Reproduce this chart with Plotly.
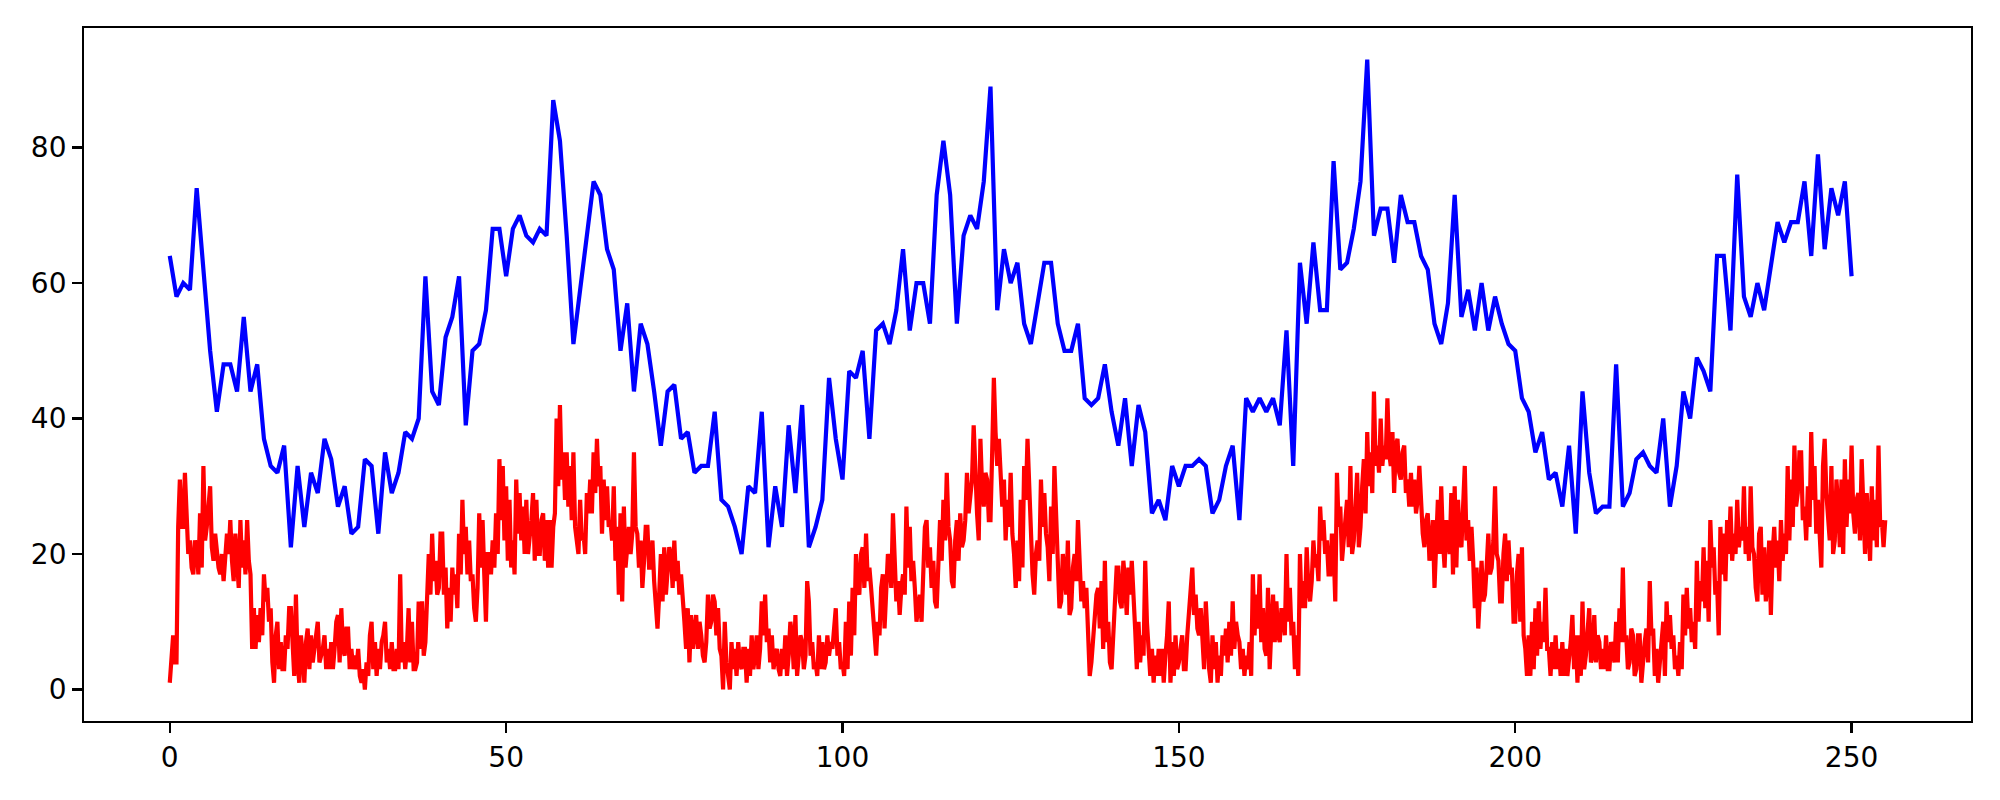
import plotly.graph_objects as go

# Blue series: one value per integer x (0..250)
blue_values = [
    64, 58, 60, 59, 74, 61, 50, 41, 48, 48,
    44, 55, 44, 48, 37, 33, 32, 36, 21, 33,
    24, 32, 29, 37, 34, 27, 30, 23, 24, 34,
    33, 23, 35, 29, 32, 38, 37, 40, 61, 44,
    42, 52, 55, 61, 39, 50, 51, 56, 68, 68,
    61, 68, 70, 67, 66, 68, 67, 87, 81, 67,
    51, 59, 67, 75, 73, 65, 62, 50, 57, 44,
    54, 51, 44, 36, 44, 45, 37, 38, 32, 33,
    33, 41, 28, 27, 24, 20, 30, 29, 41, 21,
    30, 24, 39, 29, 42, 21, 24, 28, 46, 37,
    31, 47, 46, 50, 37, 53, 54, 51, 56, 65,
    53, 60, 60, 54, 73, 81, 73, 54, 67, 70,
    68, 75, 89, 56, 65, 60, 63, 54, 51, 57,
    63, 63, 54, 50, 50, 54, 43, 42, 43, 48,
    41, 36, 43, 33, 42, 38, 26, 28, 25, 33,
    30, 33, 33, 34, 33, 26, 28, 33, 36, 25,
    43, 41, 43, 41, 43, 39, 53, 33, 63, 54,
    66, 56, 56, 78, 62, 63, 68, 75, 93, 67,
    71, 71, 63, 73, 69, 69, 64, 62, 54, 51,
    57, 73, 55, 59, 53, 60, 53, 58, 54, 51,
    50, 43, 41, 35, 38, 31, 32, 27, 36, 23,
    44, 32, 26, 27, 27, 48, 27, 29, 34, 35,
    33, 32, 40, 27, 33, 44, 40, 49, 47, 44,
    64, 64, 53, 76, 58, 55, 60, 56, 63, 69,
    66, 69, 69, 75, 64, 79, 65, 74, 70, 75,
    61,
]
blue_x = list(range(len(blue_values)))

# Red series: read every quarter unit of x (0 .. 255)
red_step = 0.25
red_values = [
    1, 6, 8, 4,  4, 24, 31, 24,  24, 32, 25, 20,  22, 18, 17, 22,  21, 17, 26, 18,
    33, 22, 24, 28,  30, 21, 19, 23,  20, 18, 17, 20,  16, 21, 23, 20,  25, 19, 16, 23,
    19, 15, 25, 18,  22, 17, 25, 19,  17, 6, 12, 6,  11, 7, 12, 8,  17, 13, 15, 10,
    12, 4, 1, 8,  10, 3, 7, 3,  3, 8, 6, 12,  12, 5, 2, 14,  4, 1, 8, 5,
    1, 7, 9, 3,  8, 4, 6, 9,  10, 4, 5, 6,  8, 3, 6, 3,  7, 3, 6, 10,
    11, 4, 12, 6,  5, 9, 9, 3,  6, 3, 5, 3,  6, 2, 1, 3,  0, 4, 2, 8,
    10, 3, 7, 2,  6, 3, 7, 8,  10, 4, 6, 3,  7, 3, 3, 6,  3, 17, 4, 7,
    3, 6, 12, 4,  10, 3, 3, 4,  13, 6, 13, 5,  7, 12, 20, 14,  23, 16, 19, 14,
    15, 23, 23, 14,  18, 9, 15, 10,  18, 14, 17, 12,  23, 17, 28, 20,  24, 17, 22, 16,
    17, 12, 10, 15,  26, 18, 25, 17,  10, 20, 20, 17,  22, 18, 26, 20,  34, 25, 33, 22,
    30, 19, 28, 18,  22, 17, 31, 23,  29, 22, 27, 20,  28, 20, 22, 25,  29, 19, 28, 20,
    20, 25, 26, 19,  25, 18, 25, 18,  24, 26, 40, 30,  42, 31, 35, 28,  35, 27, 33, 25,
    35, 24, 22, 20,  28, 22, 23, 20,  29, 26, 31, 26,  35, 29, 37, 30,  33, 23, 31, 25,
    30, 24, 25, 22,  30, 19, 24, 14,  26, 13, 27, 18,  21, 24, 20, 23,  35, 24, 23, 18,
    22, 15, 19, 24,  24, 18, 18, 22,  16, 12, 9, 14,  20, 13, 21, 14,  18, 21, 20, 15,
    22, 16, 19, 14,  17, 14, 10, 6,  12, 4, 11, 6,  9, 11, 6, 10,  8, 5, 4, 7,
    14, 9, 10, 14,  13, 8, 12, 6,  5, 0, 10, 4,  2, 0, 7, 3,  6, 2, 7, 4,
    3, 6, 6, 1,  6, 2, 8, 3,  5, 8, 3, 6,  13, 8, 14, 7,  9, 4, 8, 3,
    5, 6, 3, 2,  6, 3, 8, 2,  5, 10, 8, 3,  11, 2, 5, 8,  7, 3, 5, 16,
    13, 5, 7, 3,  4, 2, 8, 3,  7, 3, 4, 8,  5, 7, 6, 10,  12, 5, 7, 3,
    4, 2, 10, 3,  13, 5, 15, 8,  20, 15, 14, 20,  21, 15, 23, 16,  18, 15, 12, 8,
    5, 10, 8, 15,  17, 9, 14, 20,  19, 15, 26, 17,  13, 16, 11, 15,  17, 14, 27, 18,
    24, 16, 19, 15,  10, 12, 14, 10,  16, 24, 25, 18,  21, 15, 19, 13,  12, 17, 25, 19,
    28, 22, 32, 24,  22, 16, 15, 22,  25, 19, 26, 21,  22, 25, 32, 26,  29, 31, 39, 30,
    26, 22, 37, 30,  27, 32, 31, 25,  25, 35, 46, 38,  33, 37, 33, 27,  31, 22, 28, 24,
    32, 23, 20, 15,  22, 16, 28, 18,  33, 28, 37, 30,  26, 17, 14, 20,  22, 19, 31, 24,
    29, 23, 21, 16,  27, 20, 33, 24,  19, 12, 13, 20,  17, 14, 22, 11,  12, 18, 20, 16,
    25, 18, 13, 16,  12, 15, 6, 2,  4, 8, 10, 14,  15, 9, 16, 6,  19, 7, 10, 4,
    3, 9, 15, 18,  18, 13, 12, 19,  16, 11, 18, 14,  19, 15, 9, 3,  10, 4, 8, 5,
    19, 10, 5, 2,  6, 1, 5, 2,  6, 2, 6, 1,  5, 8, 13, 1,  7, 2, 8, 3,
    4, 6, 8, 3,  3, 8, 12, 14,  18, 11, 14, 9,  8, 12, 7, 3,  13, 6, 3, 1,
    8, 3, 7, 1,  5, 2, 8, 5,  9, 4, 10, 5,  13, 6, 10, 8,  7, 3, 6, 2,
    5, 3, 7, 2,  17, 8, 14, 9,  17, 7, 12, 6,  5, 15, 3, 9,  14, 7, 13, 8,
    7, 12, 11, 8,  20, 10, 15, 8,  10, 3, 8, 2,  20, 12, 16, 12,  21, 15, 13, 16,
    22, 18, 20, 16,  27, 22, 25, 20,  22, 17, 17, 23,  21, 13, 32, 24,  27, 19, 22, 25,
    28, 21, 33, 20,  22, 27, 32, 21,  24, 30, 34, 26,  38, 30, 35, 29,  44, 33, 36, 32,
    40, 33, 36, 34,  43, 35, 33, 38,  29, 36, 37, 32,  31, 35, 36, 29,  31, 27, 32, 27,
    31, 26, 28, 33,  27, 23, 21, 25,  26, 19, 21, 25,  15, 23, 28, 20,  30, 22, 18, 25,
    23, 20, 29, 17,  30, 18, 28, 22,  21, 29, 33, 22,  25, 19, 24, 19,  12, 18, 9, 14,
    19, 13, 14, 18,  23, 17, 18, 22,  30, 20, 19, 13,  13, 20, 23, 16,  22, 17, 18, 10,
    10, 17, 20, 10,  21, 8, 6, 2,  8, 2, 10, 3,  12, 5, 13, 6,  10, 7, 15, 6,
    6, 2, 7, 3,  8, 3, 6, 2,  7, 2, 6, 2,  4, 7, 11, 3,  8, 1, 8, 2,
    13, 3, 5, 9,  12, 4, 5, 11,  4, 8, 7, 3,  6, 3, 8, 3,  3, 7, 6, 4,
    10, 4, 12, 7,  18, 7, 8, 3,  4, 9, 8, 2,  3, 8, 8, 1,  5, 7, 9, 4,
    16, 8, 9, 2,  6, 1, 4, 7,  10, 2, 13, 7,  11, 6, 8, 3,  5, 2, 7, 3,
    14, 8, 15, 9,  12, 7, 10, 6,  19, 10, 16, 13,  21, 12, 19, 10,  25, 18, 21, 14,
    16, 8, 24, 17,  23, 16, 25, 20,  27, 19, 23, 20,  28, 21, 24, 22,  30, 20, 24, 19,
    30, 21, 20, 15,  13, 23, 24, 14,  21, 13, 16, 22,  11, 20, 24, 18,  22, 16, 25, 19,
    23, 20, 33, 22,  31, 24, 36, 27,  29, 35, 35, 25,  27, 22, 30, 24,  38, 28, 33, 23,
    28, 23, 18, 33,  37, 29, 25, 22,  33, 20, 22, 31,  27, 21, 31, 20,  34, 24, 31, 26,
    36, 26, 23, 28,  29, 22, 34, 26,  20, 29, 24, 19,  30, 22, 28, 21,  36, 24, 25, 21,
    25,
]
red_x = [i * red_step for i in range(len(red_values))]

x_ticks = [0, 50, 100, 150, 200, 250]
y_ticks = [0, 20, 40, 60, 80]

fig = go.Figure()
fig.add_trace(go.Scatter(x=blue_x, y=blue_values, mode="lines",
                         line=dict(color="#0000ff", width=4.2), showlegend=False,
                         hoverinfo="skip"))
fig.add_trace(go.Scatter(x=red_x, y=red_values, mode="lines",
                         line=dict(color="#ff0000", width=4.2), showlegend=False,
                         hoverinfo="skip"))

axis_common = dict(
    showgrid=False, zeroline=False, showline=True, mirror=True,
    linecolor="black", linewidth=2.2,
    ticks="outside", ticklen=9.7, tickwidth=2.2, tickcolor="black",
    tickfont=dict(family="DejaVu Sans", size=28, color="black"),
)

xmax = red_x[-1]
ymax = max(max(blue_values), max(red_values))
fig.update_layout(
    width=2000, height=800, autosize=False,
    margin=dict(l=84, r=29, t=28, b=79, pad=0),
    paper_bgcolor="white", plot_bgcolor="white",
    xaxis=dict(range=[-0.05 * xmax, 1.05 * xmax], tickmode="array",
               tickvals=x_ticks, ticktext=[str(v) for v in x_ticks], **axis_common),
    yaxis=dict(range=[-0.05 * ymax, 1.05 * ymax], tickmode="array",
               tickvals=y_ticks, ticktext=[str(v) for v in y_ticks], **axis_common),
)

fig.write_html("out.html",
               config={"displayModeBar": False, "staticPlot": True},
               post_script="document.body.style.margin='0px';document.body.style.overflow='hidden';")
